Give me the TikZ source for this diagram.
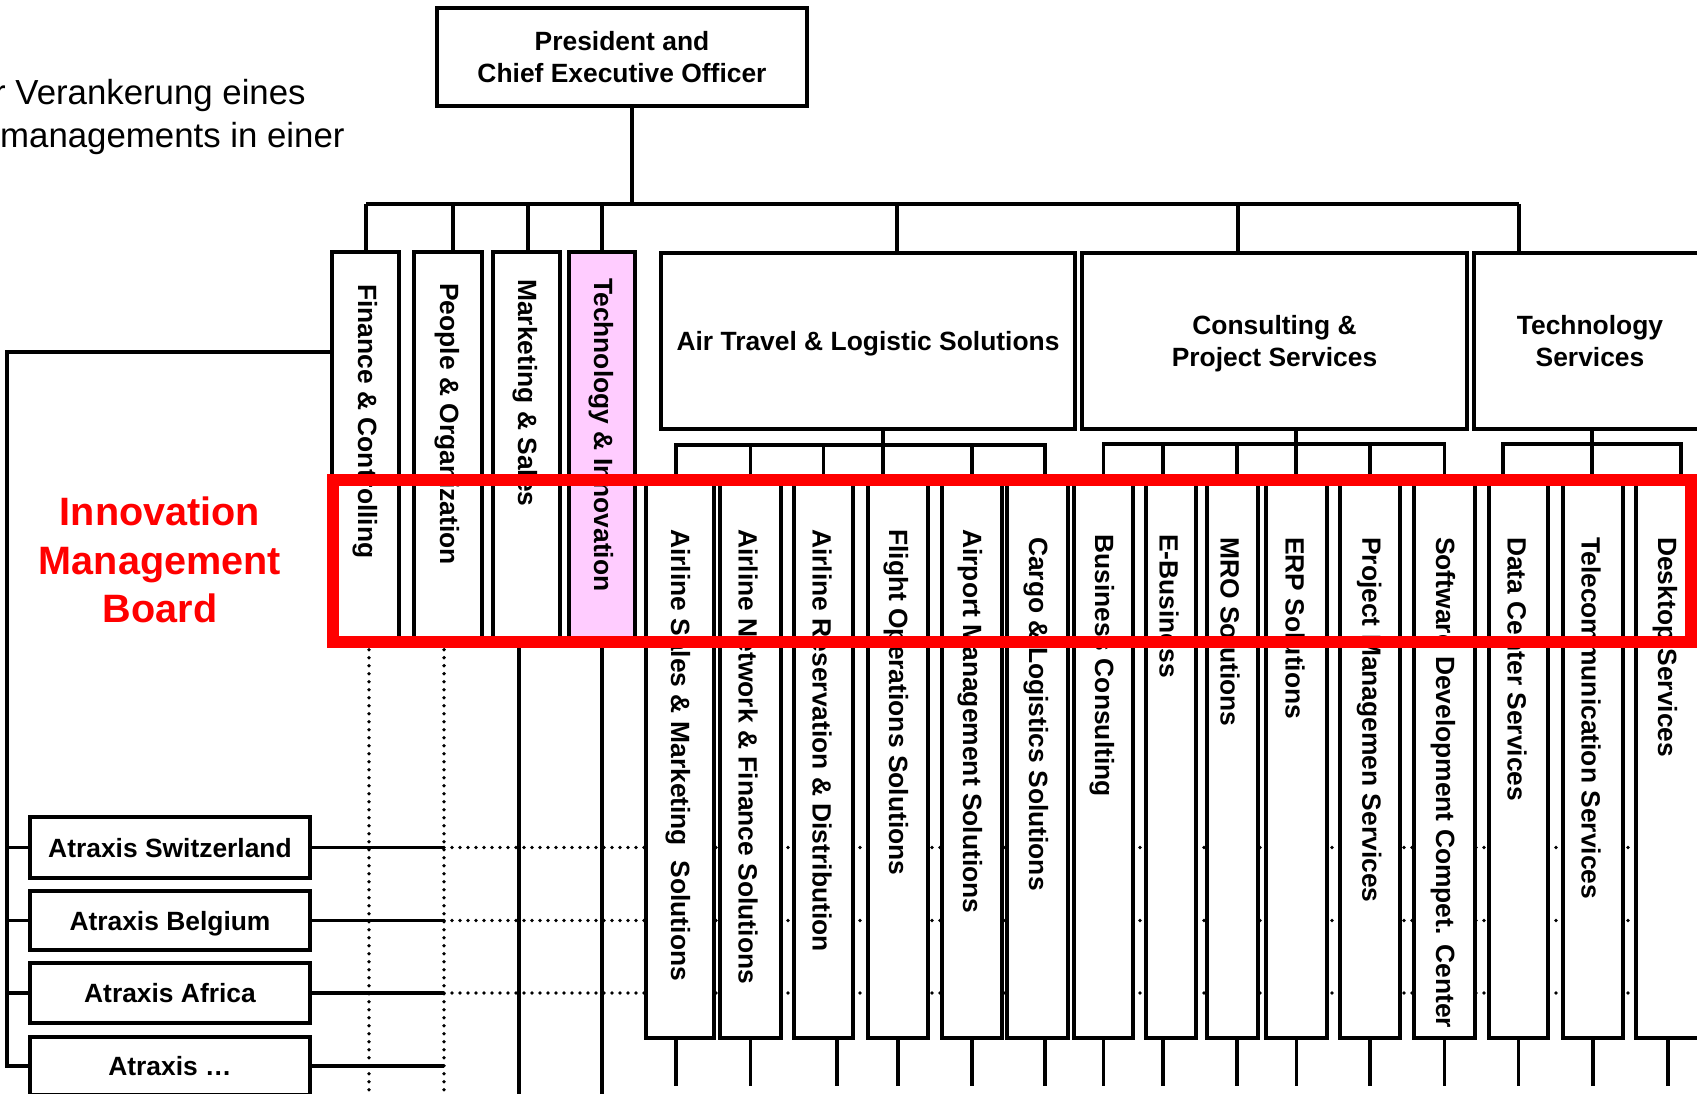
\documentclass[tikz,border=0pt]{standalone}
\usepackage{fontspec}
\setmainfont{Liberation Sans}
\usetikzlibrary{backgrounds}
\definecolor{tipink}{RGB}{255,204,255}
\begin{document}
\begin{tikzpicture}[
  x=1pt, y=-1pt,
  orgbox/.style={draw, line width=3.3pt, fill=white, inner sep=0pt, align=center, text depth=0pt,
    font=\bfseries\fontsize{26.4}{31.4}\selectfont},
  colbox/.style={orgbox, minimum width=#1, minimum height=558pt},
  staffbox/.style={orgbox, minimum width=#1, minimum height=388pt},
  subbox/.style={orgbox, minimum width=280pt, minimum height=#1},
  divbox/.style={orgbox, minimum width=#1, minimum height=176pt},
  vtext/.style={rotate=-90, anchor=west, inner sep=0pt,
    font=\bfseries\fontsize{26.4}{31.4}\selectfont},
  intro/.style={anchor=base west, inner sep=0pt, font=\fontsize{34.8}{40}\selectfont},
  link/.style={line width=3.3pt},
  dotlink/.style={line width=3.8pt, line cap=round, dash pattern=on 0pt off 8pt},
  board/.style={draw=red, line width=12pt, minimum width=1358pt, minimum height=162pt}
  ]
	\useasboundingbox (0,0) rectangle (1697,1094);

	\node[intro] (intro1) at (-6,105) {r Verankerung eines};
	\node[intro] (intro2) at (0,148) {managements in einer};

	\node[orgbox, minimum width=370pt, minimum height=98pt] (ceo) at (622,57) {President and\\Chief Executive Officer};

	% staff units
	\node[staffbox=67pt] (fin) at (365.5,446) {};
	\node[staffbox=68pt] (ppl) at (448,446) {};
	\node[staffbox=67pt] (mkt) at (526.5,446) {};
	\node[staffbox=66pt, fill=tipink] (tin) at (602,446) {};
	\node[vtext] (fin-t) at (365,284) {Finance \& Controlling};
	\node[vtext] (ppl-t) at (447,283) {People \& Organization};
	\node[vtext] (mkt-t) at (525,279) {Marketing \& Sales};
	\node[vtext] (tin-t) at (601,278) {Technology \& Innovation};

	% divisions
	\node[divbox=414pt] (air) at (868,341) {Air Travel \& Logistic Solutions};
	\node[divbox=385pt] (cps) at (1274.5,341) {Consulting \&\\Project Services};
	\node[divbox=232pt] (tsv) at (1590,341) {Technology\\Services};

	% business units
	\node[colbox=68pt] (c1) at (680,759) {};
	\node[colbox=61pt] (c2) at (750.5,759) {};
	\node[colbox=59pt] (c3) at (823.5,759) {};
	\node[colbox=60pt] (c4) at (898,759) {};
	\node[colbox=60pt] (c5) at (972,759) {};
	\node[colbox=61pt] (c6) at (1037.5,759) {};
	\node[colbox=59pt] (c7) at (1103.5,759) {};
	\node[colbox=50pt] (c8) at (1171,759) {};
	\node[colbox=51pt] (c9) at (1232.5,759) {};
	\node[colbox=61pt] (c10) at (1296.5,759) {};
	\node[colbox=60pt] (c11) at (1370,759) {};
	\node[colbox=61pt] (c12) at (1444.5,759) {};
	\node[colbox=59pt] (c13) at (1518.5,759) {};
	\node[colbox=60pt] (c14) at (1593,759) {};
	\node[colbox=64pt] (c15) at (1668,759) {};

	\node[vtext] (c1-t) at (678,529) {Airline Sales \& Marketing\ \ Solutions};
	\node[vtext] (c2-t) at (748,529) {Airline Network \& Finance Solutions};
	\node[vtext] (c3-t) at (822,529) {Airline Reservation \& Distribution};
	\node[vtext] (c4-t) at (896,529) {Flight Operations Solutions};
	\node[vtext] (c5-t) at (970,529) {Airport Management Solutions};
	\node[vtext] (c6-t) at (1036,537) {Cargo \& Logistics Solutions};
	\node[vtext] (c7-t) at (1102,534) {Business Consulting};
	\node[vtext] (c8-t) at (1169,534) {E-Business};
	\node[vtext] (c9-t) at (1230,537) {MRO Solutions};
	\node[vtext] (c10-t) at (1295,537) {ERP Solutions};
	\node[vtext] (c11-t) at (1369,537) {Project Managemen Services};
	\node[vtext] (c12-t) at (1443,537) {Software Development Compet. Center};
	\node[vtext] (c13-t) at (1517,537) {Data Center Services};
	\node[vtext] (c14-t) at (1591,537) {Telecommunication Services};
	\node[vtext] (c15-t) at (1665,537) {Desktop Services};

	% subsidiaries
	\node[subbox=61pt] (sw) at (170,847.5) {Atraxis Switzerland};
	\node[subbox=59pt] (be) at (170,920.5) {Atraxis Belgium};
	\node[subbox=60pt] (af) at (170,993) {Atraxis Africa};
	\node[subbox=58pt] (etc) at (170,1066) {Atraxis …};

	\node[text=red, align=center, font=\bfseries\fontsize{39.6}{48.5}\selectfont] (imb) at (160,560) {Innovation\\Management\\Board};

	\coordinate (hq-c) at (632,204);
	\coordinate (hq-l) at (366,204);
	\coordinate (hq-r) at (1519,204);
	\coordinate (air-d) at (897,204);
	\coordinate (cps-d) at (1238,204);
	\coordinate (air-j) at (883,445);
	\coordinate (cps-j) at (1296,444);
	\coordinate (tsv-j) at (1592,444);
	\coordinate (tsv-l) at (1503,444);
	\coordinate (tsv-r) at (1681,444);
	\coordinate (imb-l) at (7,352);
	\coordinate (foot) at (0,1086);
	\coordinate (base) at (0,1097);
	\coordinate (edge) at (1700,0);
	\coordinate (fin-dot) at (369,0);
	\coordinate (ppl-dot) at (444,0);
	\coordinate (mkt-ln) at (519,0);

	\begin{scope}[on background layer]
	\draw[link] (hq-c |- ceo.south) -- (hq-c);
	\draw[link] (hq-l) -- (hq-r);
	\draw[link] (hq-l) -- (hq-l |- fin.north);
	\draw[link] ([xshift=5pt]ppl.north) -- ([xshift=5pt]ppl.north |- hq-l);
	\draw[link] ([xshift=1.5pt]mkt.north) -- ([xshift=1.5pt]mkt.north |- hq-l);
	\draw[link] (tin.north) -- (tin.north |- hq-l);
	\draw[link] (air-d) -- (air-d |- air.north);
	\draw[link] (cps-d) -- (cps-d |- cps.north);
	\draw[link] (hq-r) -- (hq-r |- tsv.north);

	\draw[link] (air-j |- air.south) -- (air-j |- c4.north);
	\draw[link] ([xshift=-4pt]c1.north) |- (air-j) -| ([xshift=7.5pt]c6.north);
	\draw[link] (c2.north) -- (c2.north |- air-j);
	\draw[link] (c3.north) -- (c3.north |- air-j);
	\draw[link] (c5.north) -- (c5.north |- air-j);

	\draw[link] (cps-j |- cps.south) -- (cps-j |- c10.north);
	\draw[link] (c7.north) |- (cps-j) -| (c12.north);
	\draw[link] ([xshift=-8pt]c8.north) -- ([xshift=-8pt]c8.north |- cps-j);
	\draw[link] ([xshift=4.5pt]c9.north) -- ([xshift=4.5pt]c9.north |- cps-j);
	\draw[link] (c11.north) -- (c11.north |- cps-j);

	\draw[link] (tsv-j |- tsv.south) -- (tsv-j |- c14.north);
	\draw[link] (tsv-l |- c13.north) |- (tsv-j) -| (tsv-r |- c15.north);

	\draw[link] ([xshift=-4pt]c1.south) -- ([xshift=-4pt]c1.south |- foot)
	  (c2.south) -- (c2.south |- foot)
	  ([xshift=13.5pt]c3.south) -- ([xshift=13.5pt]c3.south |- foot)
	  (c4.south) -- (c4.south |- foot)
	  (c5.south) -- (c5.south |- foot)
	  ([xshift=7.5pt]c6.south) -- ([xshift=7.5pt]c6.south |- foot)
	  (c7.south) -- (c7.south |- foot)
	  ([xshift=-8pt]c8.south) -- ([xshift=-8pt]c8.south |- foot)
	  ([xshift=4.5pt]c9.south) -- ([xshift=4.5pt]c9.south |- foot)
	  (c10.south) -- (c10.south |- foot)
	  (c11.south) -- (c11.south |- foot)
	  (c12.south) -- (c12.south |- foot)
	  (c13.south) -- (c13.south |- foot)
	  (c14.south) -- (c14.south |- foot)
	  (c15.south) -- (c15.south |- foot);

	\draw[dotlink] (fin-dot |- fin.south) -- (fin-dot |- base);
	\draw[dotlink] (ppl-dot |- ppl.south) -- (ppl-dot |- base);
	\draw[link] (mkt-ln |- mkt.south) -- (mkt-ln |- base);
	\draw[link] (tin.south) -- (tin.south |- base);

	\draw[link] (fin.west |- imb-l) -- (imb-l) |- (etc.west);
	\draw[link] (sw.west) -- (sw.west -| imb-l);
	\draw[link] (be.west) -- (be.west -| imb-l);
	\draw[link] (af.west) -- (af.west -| imb-l);

	\draw[link] (sw.east) -- (sw.east -| ppl-dot);
	\draw[link] (be.east) -- (be.east -| ppl-dot);
	\draw[link] (af.east) -- (af.east -| ppl-dot);
	\draw[link] (etc.east) -- (etc.east -| ppl-dot);
	\draw[dotlink] (sw.east -| ppl-dot) -- (sw.east -| edge);
	\draw[dotlink] (be.east -| ppl-dot) -- (be.east -| edge);
	\draw[dotlink] (af.east -| ppl-dot) -- (af.east -| edge);
	\end{scope}

	\node[board] (imb-frame) at (1012,561) {};
\end{tikzpicture}
\end{document}
